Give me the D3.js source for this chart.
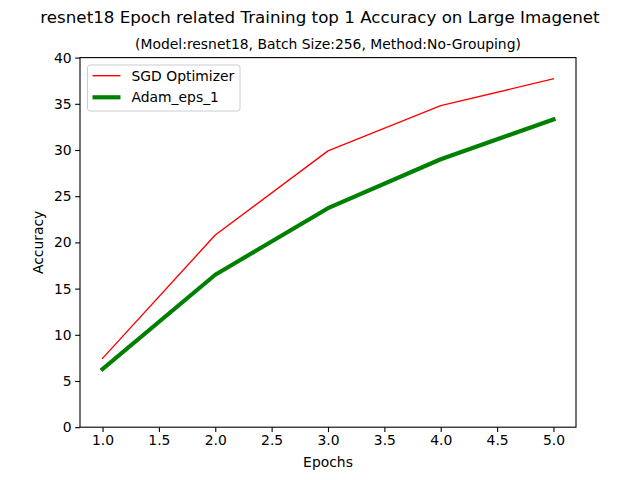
<!DOCTYPE html>
<html><head><meta charset="utf-8">
<script src="https://cdn.jsdelivr.net/npm/d3@7"></script>
<style>body{margin:0;background:#fff}svg{display:block}text{font-family:"DejaVu Sans",sans-serif}</style>
</head><body>
<svg id="c" width="640" height="480"></svg>
<script>
const epochs = [1, 2, 3, 4, 5];
const sgdAcc = [7.45, 20.8, 29.9, 34.8, 37.7];
const adamAcc = [6.3, 16.5, 23.7, 29.0, 33.3];
const xTicks = [1.0, 1.5, 2.0, 2.5, 3.0, 3.5, 4.0, 4.5, 5.0];
const yTicks = [0, 5, 10, 15, 20, 25, 30, 35, 40];
const seriesNames = ["SGD Optimizer", "Adam_eps_1"];

const svg = d3.select("#c");
const L = 80, R = 576, T = 57.6, B = 427.2;
const fs = 13.9;
const x = d3.scaleLinear().domain([0.8, 5.2]).range([L, R]);
const y = d3.scaleLinear().domain([0, 40]).range([B, T]);

svg.append("rect").attr("width", 640).attr("height", 480).attr("fill", "#fff");

// lines
const line = d3.line().x(d => x(d[0])).y(d => y(d[1]));
const series = [
  {vals: sgdAcc, color: "#ff0000", w: 1.39},
  {vals: adamAcc, color: "#008000", w: 4.17}
];
const plot = svg.append("g");
series.forEach(s => {
  plot.append("path").datum(epochs.map((e, i) => [e, s.vals[i]]))
    .attr("d", line).attr("fill", "none").attr("stroke", s.color)
    .attr("stroke-width", s.w).attr("stroke-linecap", "square").attr("stroke-linejoin", "round");
});

// axes
const xAxis = d3.axisBottom(x).tickValues(xTicks).tickFormat(d3.format(".1f")).tickSize(4.86).tickPadding(3.5);
const yAxis = d3.axisLeft(y).tickValues(yTicks).tickFormat(d3.format("d")).tickSize(4.86).tickPadding(3.5);
const gx = svg.append("g").attr("transform", `translate(0,${B})`).call(xAxis);
const gy = svg.append("g").attr("transform", `translate(${L},0)`).call(yAxis);
[gx, gy].forEach(g => {
  g.select(".domain").remove();
  g.selectAll(".tick line").attr("stroke", "#000").attr("stroke-width", 1.1);
  g.selectAll(".tick text").attr("font-size", fs).attr("fill", "#000").attr("font-family", "DejaVu Sans");
});
svg.append("rect").attr("x", L).attr("y", T).attr("width", R - L).attr("height", B - T)
  .attr("fill", "none").attr("stroke", "#000").attr("stroke-width", 1.1);

// labels
svg.append("text").attr("x", (L + R) / 2).attr("y", 467).attr("text-anchor", "middle")
  .attr("font-size", fs).text("Epochs");
svg.append("text").attr("transform", `translate(43,${(T + B) / 2}) rotate(-90)`).attr("text-anchor", "middle")
  .attr("font-size", fs).text("Accuracy");
svg.append("text").attr("x", 320).attr("y", 22.5).attr("text-anchor", "middle")
  .attr("font-size", 16.7).text("resnet18 Epoch related Training top 1 Accuracy on Large Imagenet");
svg.append("text").attr("x", (L + R) / 2).attr("y", 49).attr("text-anchor", "middle")
  .attr("font-size", fs).text("(Model:resnet18, Batch Size:256, Method:No-Grouping)");

// legend
const lg = svg.append("g");
lg.append("rect").attr("x", 87.5).attr("y", 65).attr("width", 152.5).attr("height", 46)
  .attr("rx", 2.5).attr("fill", "#fff").attr("fill-opacity", 0.8).attr("stroke", "#cccccc").attr("stroke-width", 1);
seriesNames.forEach((n, i) => {
  const cy = 75.7 + i * 21.6;
  lg.append("line").attr("x1", 92.5).attr("x2", 120.5).attr("y1", cy).attr("y2", cy)
    .attr("stroke", series[i].color).attr("stroke-width", series[i].w);
  lg.append("text").attr("x", 131.5).attr("y", cy + 5).attr("font-size", fs).text(n);
});
</script>
</body></html>
